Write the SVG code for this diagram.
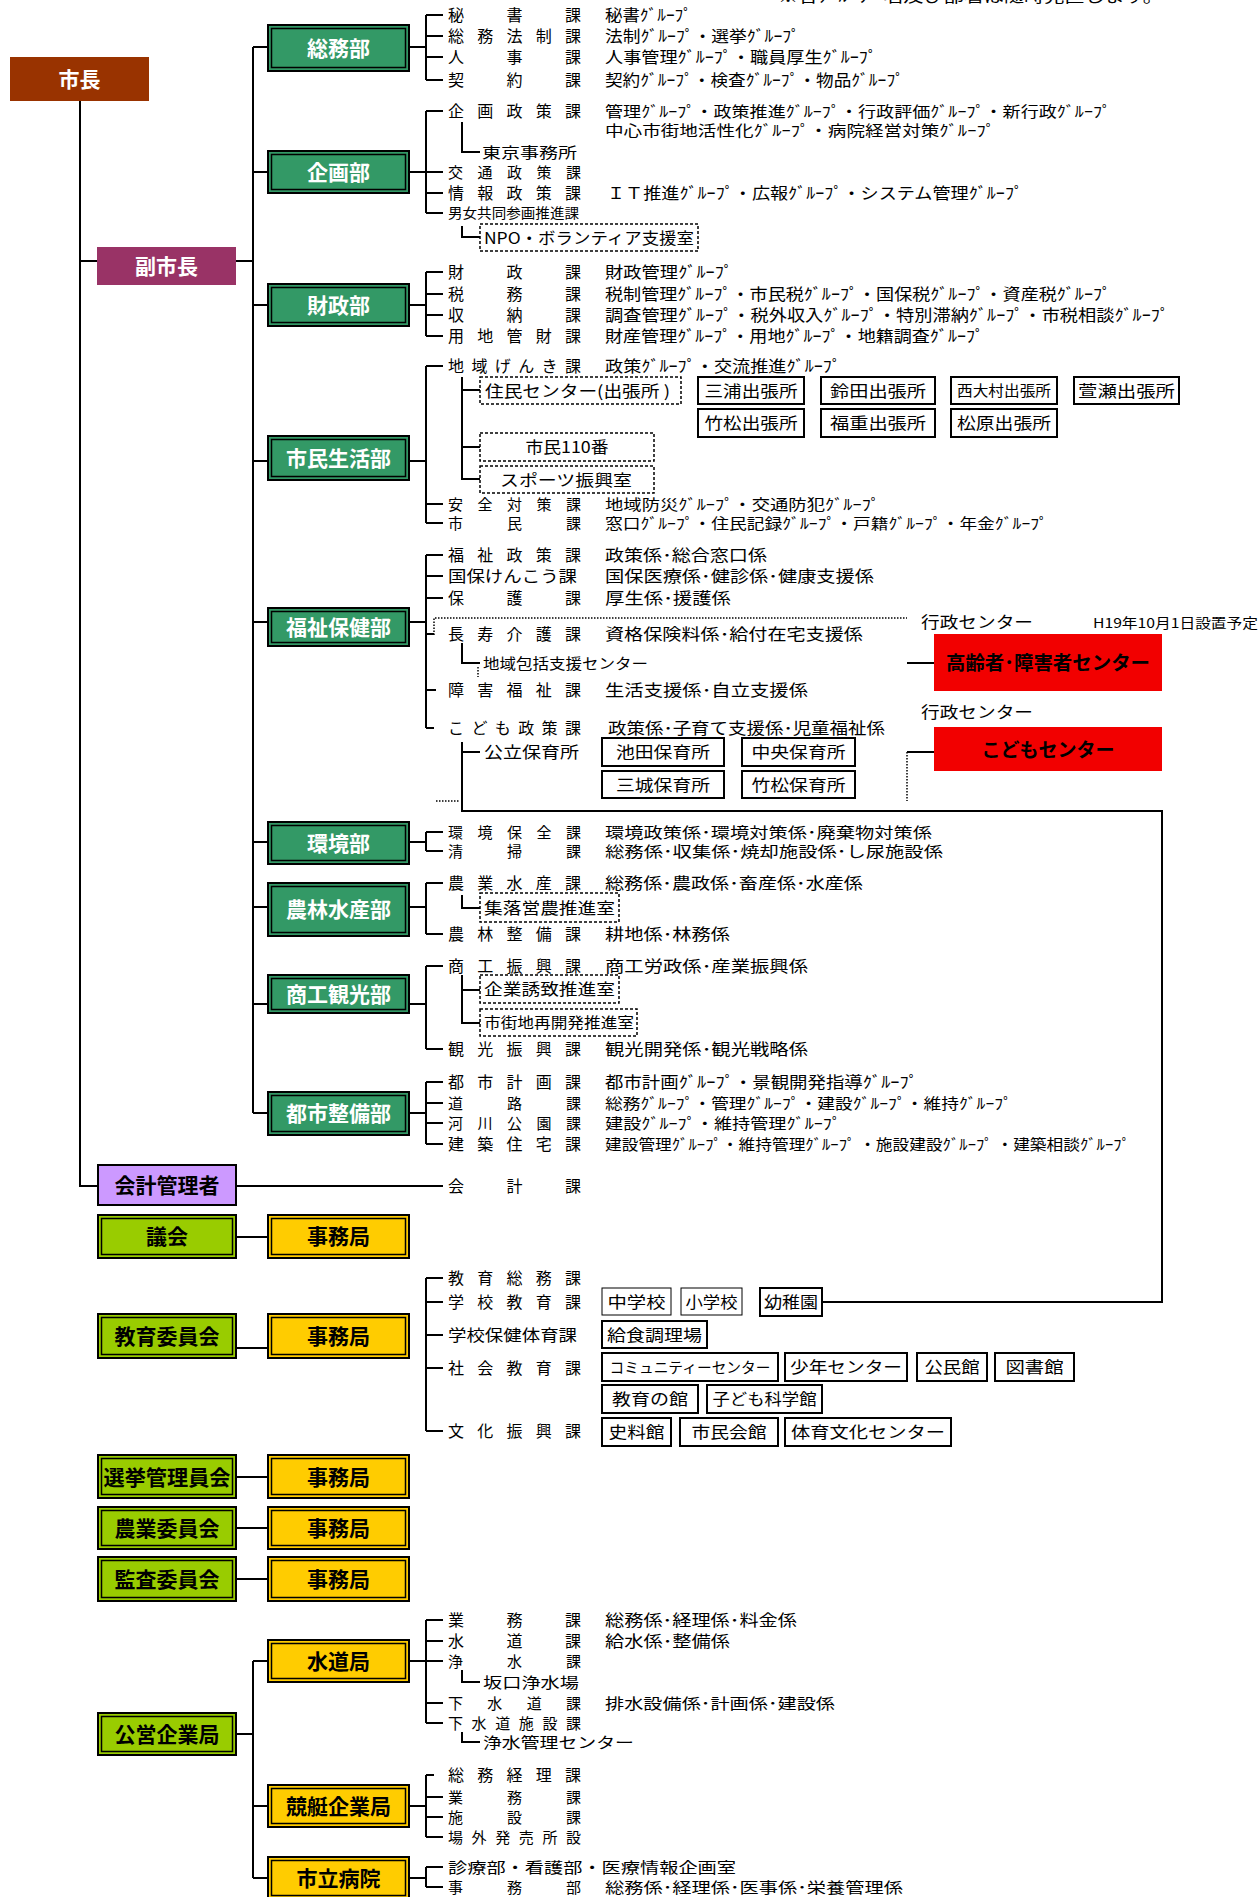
<svg xmlns="http://www.w3.org/2000/svg" width="1260" height="1897" viewBox="0 0 1260 1897">
<style>
text{font-family:"Noto Sans CJK JP","Noto Sans",sans-serif;font-size:16px;fill:#000}
.n{font-size:15px}
.s{font-size:14.5px}
.xs{font-size:13.5px}
.b{font-weight:bold;font-size:21px;text-anchor:middle}
.r{font-weight:bold;font-size:19px;text-anchor:middle}
.c{text-anchor:middle}
.w{fill:#fff}
.ln{stroke:#000;stroke-width:2;fill:none}
.dt{stroke:#000;stroke-width:1.5;stroke-dasharray:1.5 1.5;fill:none}
.g{fill:#339966;stroke:#000;stroke-width:2}
.y{fill:#ffcc00;stroke:#000;stroke-width:2}
.l{fill:#99cc00;stroke:#000;stroke-width:2}
.in{fill:none;stroke:#000;stroke-width:1.5}
.sb{fill:#fff;stroke:#000;stroke-width:2}
.tb{fill:#fff;stroke:#000;stroke-width:1}
.db{fill:#fff;stroke:#000;stroke-width:1.5;stroke-dasharray:3 2}
.red{fill:#f20000}
</style>

<text x="778" y="2" textLength="385" lengthAdjust="spacingAndGlyphs">※各ｸﾞﾙｰﾌﾟ 名及び部署は随時見直します。</text>

<g id="connectors">
<path class="ln" d="M80 101V1186H97M80 261H97M236 261H253M253 47V1113"/>
<path class="ln" d="M253 47H267M253 172H267M253 305H267M253 461H267M253 622H267M253 842H267M253 907H267M253 1004H267M253 1113H267"/>
<path class="ln" d="M410 47H426M410 172H426M410 305H426M410 461H426M410 622H426M410 842H426M410 907H426M410 1004H426M410 1113H426"/>
<path class="ln" d="M426 15V80M426 111V213M426 272V336M426 366V523M426 555V728M426 832V851M426 883V934M426 966V1049M426 1082V1144M426 1278V1431M426 1620V1723M426 1775V1837M426 1867V1887"/>
<path class="ln" d="M426 15H443M426 36H443M426 57H443M426 80H443M426 111H443M426 172H443M426 193H443M426 213H443M426 272H443M426 294H443M426 315H443M426 336H443M426 366H443M426 504H443M426 523H443M426 555H443M426 576H443M426 598H443M426 634H434M426 690H436M426 728H434M426 832H443M426 851H443M426 883H443M426 934H443M426 966H443M426 1049H443M426 1082H443M426 1103H443M426 1123H443M426 1144H443"/>
<path class="ln" d="M426 1278H443M426 1302H443M426 1335H443M426 1368H443M426 1431H443M426 1620H443M426 1641H443M426 1661H443M426 1703H443M426 1723H443M426 1775H434M426 1797H443M426 1817H443M426 1837H443M426 1867H443M426 1887H443"/>
<path class="ln" d="M236 1186H443M237 1237H267M237 1348H267M237 1477H267M237 1528H267M237 1579H267"/>
<path class="ln" d="M237 1734H253M253 1661V1878M253 1661H267M253 1806H267M253 1878H267M410 1661H426M410 1806H426M410 1878H426"/>
<path class="ln" d="M462 122V152H480M462 226V237H480M462 377V479H480M462 390H480M462 447H480M462 643V663H480M462 742V811H1162V1302H822M462 752H480M462 895V908H480M462 975V1023H480M462 990H480M462 1670V1682H480M462 1732V1742H480"/>
<path class="ln" d="M907 663H934M907 752H934"/>
<path class="dt" d="M434 635V618H907M478 667V677M907 752V801M436 801H460"/>
</g>

<g id="n-mayor"><rect x="10" y="57" width="139" height="44" fill="#993300"/><text class="b w" x="79.5" y="87">市長</text></g>
<g id="n-vice"><rect x="97" y="247" width="139" height="38" fill="#993366"/><text class="b w" x="166.5" y="274">副市長</text></g>

<g id="n-somu"><rect class="g" x="268" y="25" width="141" height="46"/><rect class="in" x="271.5" y="28.5" width="134" height="39"/><text class="b w" x="338.5" y="56">総務部</text></g>
<g id="n-kikaku"><rect class="g" x="268" y="151" width="141" height="42"/><rect class="in" x="271.5" y="154.5" width="134" height="35"/><text class="b w" x="338.5" y="180">企画部</text></g>
<g id="n-zaisei"><rect class="g" x="268" y="284" width="141" height="42"/><rect class="in" x="271.5" y="287.5" width="134" height="35"/><text class="b w" x="338.5" y="313">財政部</text></g>
<g id="n-shimin"><rect class="g" x="268" y="436" width="141" height="44"/><rect class="in" x="271.5" y="439.5" width="134" height="37"/><text class="b w" x="338.5" y="466">市民生活部</text></g>
<g id="n-fukushi"><rect class="g" x="268" y="608" width="141" height="38"/><rect class="in" x="271.5" y="611.5" width="134" height="31"/><text class="b w" x="338.5" y="635">福祉保健部</text></g>
<g id="n-kankyo"><rect class="g" x="268" y="822" width="141" height="42"/><rect class="in" x="271.5" y="825.5" width="134" height="35"/><text class="b w" x="338.5" y="851">環境部</text></g>
<g id="n-norin"><rect class="g" x="268" y="883" width="141" height="53"/><rect class="in" x="271.5" y="886.5" width="134" height="46"/><text class="b w" x="338.5" y="917">農林水産部</text></g>
<g id="n-shoko"><rect class="g" x="268" y="975" width="141" height="38"/><rect class="in" x="271.5" y="978.5" width="134" height="31"/><text class="b w" x="338.5" y="1002">商工観光部</text></g>
<g id="n-toshi"><rect class="g" x="268" y="1092" width="141" height="43"/><rect class="in" x="271.5" y="1095.5" width="134" height="36"/><text class="b w" x="338.5" y="1121">都市整備部</text></g>

<g id="n-kaikei"><rect x="98" y="1165" width="138" height="40" fill="#cc99ff" stroke="#000" stroke-width="2"/><text class="b" x="167" y="1193">会計管理者</text></g>

<g id="n-gikai"><rect class="l" x="98" y="1215" width="138" height="43"/><rect class="in" x="101.5" y="1218.5" width="131" height="36"/><text class="b" x="167" y="1244">議会</text></g>
<g id="n-gikai-j"><rect class="y" x="268" y="1215" width="141" height="43"/><rect class="in" x="271.5" y="1218.5" width="134" height="36"/><text class="b" x="338.5" y="1244">事務局</text></g>
<g id="n-kyoiku"><rect class="l" x="98" y="1314" width="138" height="44"/><rect class="in" x="101.5" y="1317.5" width="131" height="37"/><text class="b" x="167" y="1344">教育委員会</text></g>
<g id="n-kyoiku-j"><rect class="y" x="268" y="1314" width="141" height="44"/><rect class="in" x="271.5" y="1317.5" width="134" height="37"/><text class="b" x="338.5" y="1344">事務局</text></g>
<g id="n-senkyo"><rect class="l" x="98" y="1455" width="138" height="43"/><rect class="in" x="101.5" y="1458.5" width="131" height="36"/><text class="b" x="167" y="1484.5" textLength="127" lengthAdjust="spacingAndGlyphs">選挙管理員会</text></g>
<g id="n-senkyo-j"><rect class="y" x="268" y="1455" width="141" height="43"/><rect class="in" x="271.5" y="1458.5" width="134" height="36"/><text class="b" x="338.5" y="1484.5">事務局</text></g>
<g id="n-nogyo"><rect class="l" x="98" y="1507" width="138" height="42"/><rect class="in" x="101.5" y="1510.5" width="131" height="35"/><text class="b" x="167" y="1536">農業委員会</text></g>
<g id="n-nogyo-j"><rect class="y" x="268" y="1507" width="141" height="42"/><rect class="in" x="271.5" y="1510.5" width="134" height="35"/><text class="b" x="338.5" y="1536">事務局</text></g>
<g id="n-kansa"><rect class="l" x="98" y="1557" width="138" height="44"/><rect class="in" x="101.5" y="1560.5" width="131" height="37"/><text class="b" x="167" y="1587">監査委員会</text></g>
<g id="n-kansa-j"><rect class="y" x="268" y="1557" width="141" height="44"/><rect class="in" x="271.5" y="1560.5" width="134" height="37"/><text class="b" x="338.5" y="1587">事務局</text></g>
<g id="n-koei"><rect class="l" x="98" y="1713" width="138" height="42"/><rect class="in" x="101.5" y="1716.5" width="131" height="35"/><text class="b" x="167" y="1742">公営企業局</text></g>
<g id="n-suido"><rect class="y" x="268" y="1640" width="141" height="42"/><rect class="in" x="271.5" y="1643.5" width="134" height="35"/><text class="b" x="338.5" y="1669">水道局</text></g>
<g id="n-kyotei"><rect class="y" x="268" y="1785" width="141" height="42"/><rect class="in" x="271.5" y="1788.5" width="134" height="35"/><text class="b" x="338.5" y="1814">競艇企業局</text></g>
<g id="n-byoin"><rect class="y" x="268" y="1857" width="141" height="42"/><rect class="in" x="271.5" y="1860.5" width="134" height="35"/><text class="b" x="338.5" y="1886">市立病院</text></g>

<g id="somu-items">
<text x="448" y="21" textLength="133" lengthAdjust="spacing">秘書課</text>
<text x="605" y="21" textLength="87" lengthAdjust="spacingAndGlyphs">秘書ｸﾞﾙｰﾌﾟ</text>
<text x="448" y="42" textLength="133" lengthAdjust="spacing">総務法制課</text>
<text x="605" y="42" textLength="195" lengthAdjust="spacingAndGlyphs">法制ｸﾞﾙｰﾌﾟ・選挙ｸﾞﾙｰﾌﾟ</text>
<text x="448" y="63" textLength="133" lengthAdjust="spacing">人事課</text>
<text x="605" y="63" textLength="272" lengthAdjust="spacingAndGlyphs">人事管理ｸﾞﾙｰﾌﾟ・職員厚生ｸﾞﾙｰﾌﾟ</text>
<text x="448" y="86" textLength="133" lengthAdjust="spacing">契約課</text>
<text x="605" y="86" textLength="299" lengthAdjust="spacingAndGlyphs">契約ｸﾞﾙｰﾌﾟ・検査ｸﾞﾙｰﾌﾟ・物品ｸﾞﾙｰﾌﾟ</text>
</g>

<g id="kikaku-items">
<text x="448" y="117" textLength="133" lengthAdjust="spacing">企画政策課</text>
<text class="n" x="605" y="116.5" textLength="506" lengthAdjust="spacingAndGlyphs">管理ｸﾞﾙｰﾌﾟ・政策推進ｸﾞﾙｰﾌﾟ・行政評価ｸﾞﾙｰﾌﾟ・新行政ｸﾞﾙｰﾌﾟ</text>
<text class="n" x="605" y="135.5" textLength="390" lengthAdjust="spacingAndGlyphs">中心市街地活性化ｸﾞﾙｰﾌﾟ・病院経営対策ｸﾞﾙｰﾌﾟ</text>
<text class="n" x="482" y="157.5" textLength="95" lengthAdjust="spacingAndGlyphs">東京事務所</text>
<text class="n" x="448" y="177.5" textLength="133" lengthAdjust="spacing">交通政策課</text>
<text x="448" y="199" textLength="133" lengthAdjust="spacing">情報政策課</text>
<text x="607" y="199" textLength="416" lengthAdjust="spacingAndGlyphs">ＩＴ推進ｸﾞﾙｰﾌﾟ・広報ｸﾞﾙｰﾌﾟ・システム管理ｸﾞﾙｰﾌﾟ</text>
<text x="448" y="218" style="font-size:13.5px" textLength="131" lengthAdjust="spacingAndGlyphs">男女共同参画推進課</text>
<g id="n-npo"><rect class="db" x="480" y="224" width="218" height="27"/><text x="484" y="243.5" textLength="210" lengthAdjust="spacingAndGlyphs">NPO・ボランティア支援室</text></g>
</g>

<g id="zaisei-items">
<text x="448" y="278" textLength="133" lengthAdjust="spacing">財政課</text>
<text x="605" y="278" textLength="128" lengthAdjust="spacingAndGlyphs">財政管理ｸﾞﾙｰﾌﾟ</text>
<text x="448" y="300" textLength="133" lengthAdjust="spacing">税務課</text>
<text x="605" y="300" textLength="506" lengthAdjust="spacingAndGlyphs">税制管理ｸﾞﾙｰﾌﾟ・市民税ｸﾞﾙｰﾌﾟ・国保税ｸﾞﾙｰﾌﾟ・資産税ｸﾞﾙｰﾌﾟ</text>
<text x="448" y="321" textLength="133" lengthAdjust="spacing">収納課</text>
<text x="605" y="321" textLength="564" lengthAdjust="spacingAndGlyphs">調査管理ｸﾞﾙｰﾌﾟ・税外収入ｸﾞﾙｰﾌﾟ・特別滞納ｸﾞﾙｰﾌﾟ・市税相談ｸﾞﾙｰﾌﾟ</text>
<text x="448" y="342" textLength="133" lengthAdjust="spacing">用地管財課</text>
<text x="605" y="342" textLength="379" lengthAdjust="spacingAndGlyphs">財産管理ｸﾞﾙｰﾌﾟ・用地ｸﾞﾙｰﾌﾟ・地籍調査ｸﾞﾙｰﾌﾟ</text>
</g>

<g id="shimin-items">
<text x="448" y="372" textLength="133" lengthAdjust="spacing">地域げんき課</text>
<text x="605" y="372" textLength="236" lengthAdjust="spacingAndGlyphs">政策ｸﾞﾙｰﾌﾟ・交流推進ｸﾞﾙｰﾌﾟ</text>
<g id="n-jumin"><rect class="db" x="480" y="377" width="201" height="27"/><text x="485" y="396.5" textLength="185" lengthAdjust="spacingAndGlyphs">住民センター(出張所 )</text></g>
<g id="n-miura"><rect class="sb" x="698" y="377" width="106" height="27"/><text class="c" x="751" y="396.5" textLength="93" lengthAdjust="spacingAndGlyphs">三浦出張所</text></g>
<g id="n-suzuta"><rect class="sb" x="821" y="377" width="114" height="27"/><text class="c" x="878" y="396.5" textLength="96" lengthAdjust="spacingAndGlyphs">鈴田出張所</text></g>
<g id="n-nishiomura"><rect class="sb" x="951" y="377" width="106" height="27"/><text class="c s" x="1004" y="396" textLength="94" lengthAdjust="spacingAndGlyphs">西大村出張所</text></g>
<g id="n-kayaze"><rect class="sb" x="1074" y="377" width="105" height="27"/><text class="c" x="1126.5" y="396.5" textLength="97" lengthAdjust="spacingAndGlyphs">萱瀬出張所</text></g>
<g id="n-takematsu"><rect class="sb" x="698" y="409" width="106" height="28"/><text class="c" x="751" y="429" textLength="93" lengthAdjust="spacingAndGlyphs">竹松出張所</text></g>
<g id="n-fukushige"><rect class="sb" x="821" y="409" width="114" height="28"/><text class="c" x="878" y="429" textLength="96" lengthAdjust="spacingAndGlyphs">福重出張所</text></g>
<g id="n-matsubara"><rect class="sb" x="951" y="409" width="106" height="28"/><text class="c" x="1004" y="429" textLength="94" lengthAdjust="spacingAndGlyphs">松原出張所</text></g>
<g id="n-110"><rect class="db" x="480" y="433" width="174" height="28"/><text class="c" x="567" y="453" textLength="83" lengthAdjust="spacingAndGlyphs">市民110番</text></g>
<g id="n-sports"><rect class="db" x="480" y="466" width="174" height="27"/><text class="c" x="566" y="485.5" textLength="132" lengthAdjust="spacingAndGlyphs">スポーツ振興室</text></g>
<text class="n" x="448" y="509.5" textLength="133" lengthAdjust="spacing">安全対策課</text>
<text class="n" x="605" y="509.5" textLength="275" lengthAdjust="spacingAndGlyphs">地域防災ｸﾞﾙｰﾌﾟ・交通防犯ｸﾞﾙｰﾌﾟ</text>
<text class="n" x="448" y="528.5" textLength="133" lengthAdjust="spacing">市民課</text>
<text class="n" x="605" y="528.5" textLength="443" lengthAdjust="spacingAndGlyphs">窓口ｸﾞﾙｰﾌﾟ・住民記録ｸﾞﾙｰﾌﾟ・戸籍ｸﾞﾙｰﾌﾟ・年金ｸﾞﾙｰﾌﾟ</text>
</g>

<g id="fukushi-items">
<text x="448" y="561" textLength="133" lengthAdjust="spacing">福祉政策課</text>
<text x="605" y="561" textLength="162" lengthAdjust="spacingAndGlyphs">政策係･総合窓口係</text>
<text x="448" y="582" textLength="129" lengthAdjust="spacingAndGlyphs">国保けんこう課</text>
<text x="605" y="582" textLength="269" lengthAdjust="spacingAndGlyphs">国保医療係･健診係･健康支援係</text>
<text x="448" y="604" textLength="133" lengthAdjust="spacing">保護課</text>
<text x="605" y="604" textLength="126" lengthAdjust="spacingAndGlyphs">厚生係･援護係</text>
<text x="448" y="639.5" textLength="133" lengthAdjust="spacing">長寿介護課</text>
<text x="605" y="639.5" textLength="258" lengthAdjust="spacingAndGlyphs">資格保険料係･給付在宅支援係</text>
<text class="s" x="483" y="668.5" textLength="165" lengthAdjust="spacingAndGlyphs">地域包括支援センター</text>
<text x="448" y="696" textLength="133" lengthAdjust="spacing">障害福祉課</text>
<text x="605" y="696" textLength="203" lengthAdjust="spacingAndGlyphs">生活支援係･自立支援係</text>
<text x="448" y="734" textLength="133" lengthAdjust="spacing">こども政策課</text>
<text x="608" y="734" textLength="277" lengthAdjust="spacingAndGlyphs">政策係･子育て支援係･児童福祉係</text>
<text x="484" y="758" textLength="95" lengthAdjust="spacingAndGlyphs">公立保育所</text>
<g id="n-ikeda"><rect class="sb" x="602" y="738" width="122" height="28"/><text class="c" x="663" y="758" textLength="94" lengthAdjust="spacingAndGlyphs">池田保育所</text></g>
<g id="n-chuo"><rect class="sb" x="742" y="738" width="113" height="28"/><text class="c" x="798.5" y="758" textLength="94" lengthAdjust="spacingAndGlyphs">中央保育所</text></g>
<g id="n-mishiro"><rect class="sb" x="602" y="771" width="122" height="27"/><text class="c" x="663" y="791" textLength="94" lengthAdjust="spacingAndGlyphs">三城保育所</text></g>
<g id="n-takematsu-h"><rect class="sb" x="742" y="771" width="113" height="27"/><text class="c" x="798.5" y="791" textLength="94" lengthAdjust="spacingAndGlyphs">竹松保育所</text></g>
<text x="921" y="628" textLength="112" lengthAdjust="spacingAndGlyphs">行政センター</text>
<text class="xs" x="1093" y="628" textLength="165" lengthAdjust="spacingAndGlyphs">H19年10月1日設置予定</text>
<g id="n-korei"><rect class="red" x="934" y="634" width="228" height="57"/><text class="r" x="1048" y="670" textLength="204" lengthAdjust="spacingAndGlyphs">高齢者･障害者センター</text></g>
<text x="921" y="718" textLength="112" lengthAdjust="spacingAndGlyphs">行政センター</text>
<g id="n-kodomo"><rect class="red" x="934" y="727" width="228" height="44"/><text class="r" x="1048" y="757" textLength="133" lengthAdjust="spacingAndGlyphs">こどもセンター</text></g>
</g>

<g id="kankyo-items">
<text class="n" x="448" y="837.5" textLength="133" lengthAdjust="spacing">環境保全課</text>
<text class="n" x="605" y="837.5" textLength="327" lengthAdjust="spacingAndGlyphs">環境政策係･環境対策係･廃棄物対策係</text>
<text class="n" x="448" y="856.5" textLength="133" lengthAdjust="spacing">清掃課</text>
<text class="n" x="605" y="856.5" textLength="338" lengthAdjust="spacingAndGlyphs">総務係･収集係･焼却施設係･し尿施設係</text>
</g>

<g id="norin-items">
<text x="448" y="889" textLength="133" lengthAdjust="spacing">農業水産課</text>
<text x="605" y="889" textLength="258" lengthAdjust="spacingAndGlyphs">総務係･農政係･畜産係･水産係</text>
<g id="n-shuraku"><rect class="db" x="480" y="893" width="139" height="29"/><text x="484" y="913.5" textLength="131" lengthAdjust="spacingAndGlyphs">集落営農推進室</text></g>
<text x="448" y="940" textLength="133" lengthAdjust="spacing">農林整備課</text>
<text x="605" y="940" textLength="125" lengthAdjust="spacingAndGlyphs">耕地係･林務係</text>
</g>

<g id="shoko-items">
<text x="448" y="972" textLength="133" lengthAdjust="spacing">商工振興課</text>
<text x="605" y="972" textLength="203" lengthAdjust="spacingAndGlyphs">商工労政係･産業振興係</text>
<g id="n-kigyo"><rect class="db" x="480" y="975" width="139" height="28"/><text x="484" y="995" textLength="131" lengthAdjust="spacingAndGlyphs">企業誘致推進室</text></g>
<g id="n-shigaichi"><rect class="db" x="480" y="1009" width="157" height="27"/><text class="s" x="484" y="1028" textLength="150" lengthAdjust="spacingAndGlyphs">市街地再開発推進室</text></g>
<text x="448" y="1055" textLength="133" lengthAdjust="spacing">観光振興課</text>
<text x="605" y="1055" textLength="203" lengthAdjust="spacingAndGlyphs">観光開発係･観光戦略係</text>
</g>

<g id="toshi-items">
<text x="448" y="1088" textLength="133" lengthAdjust="spacing">都市計画課</text>
<text x="605" y="1088" textLength="313" lengthAdjust="spacingAndGlyphs">都市計画ｸﾞﾙｰﾌﾟ・景観開発指導ｸﾞﾙｰﾌﾟ</text>
<text class="n" x="448" y="1108.5" textLength="133" lengthAdjust="spacing">道路課</text>
<text class="n" x="605" y="1108.5" textLength="407" lengthAdjust="spacingAndGlyphs">総務ｸﾞﾙｰﾌﾟ・管理ｸﾞﾙｰﾌﾟ・建設ｸﾞﾙｰﾌﾟ・維持ｸﾞﾙｰﾌﾟ</text>
<text class="n" x="448" y="1128.5" textLength="133" lengthAdjust="spacing">河川公園課</text>
<text class="n" x="605" y="1128.5" textLength="236" lengthAdjust="spacingAndGlyphs">建設ｸﾞﾙｰﾌﾟ・維持管理ｸﾞﾙｰﾌﾟ</text>
<text x="448" y="1150" textLength="133" lengthAdjust="spacing">建築住宅課</text>
<text class="n" x="605" y="1149.5" textLength="525" lengthAdjust="spacingAndGlyphs">建設管理ｸﾞﾙｰﾌﾟ・維持管理ｸﾞﾙｰﾌﾟ ・施設建設ｸﾞﾙｰﾌﾟ ・建築相談ｸﾞﾙｰﾌﾟ</text>
</g>

<g id="kaikei-items">
<text x="448" y="1192" textLength="133" lengthAdjust="spacing">会計課</text>
</g>

<g id="kyoiku-items">
<text x="448" y="1284" textLength="133" lengthAdjust="spacing">教育総務課</text>
<text x="448" y="1308" textLength="133" lengthAdjust="spacing">学校教育課</text>
<g id="n-chugaku"><rect class="tb" x="602" y="1288" width="69" height="27"/><text class="c" x="636.5" y="1307.5" textLength="58" lengthAdjust="spacingAndGlyphs">中学校</text></g>
<g id="n-shogaku"><rect class="tb" x="681" y="1288" width="61" height="27"/><text class="c" x="711.5" y="1307.5" textLength="52" lengthAdjust="spacingAndGlyphs">小学校</text></g>
<g id="n-yochien"><rect class="sb" x="760" y="1288" width="62" height="28"/><text class="c" x="791" y="1308" textLength="54" lengthAdjust="spacingAndGlyphs">幼稚園</text></g>
<text x="448" y="1341" textLength="129" lengthAdjust="spacingAndGlyphs">学校保健体育課</text>
<g id="n-kyushoku"><rect class="sb" x="602" y="1321" width="105" height="27"/><text class="c" x="654.5" y="1340.5" textLength="95" lengthAdjust="spacingAndGlyphs">給食調理場</text></g>
<text x="448" y="1374" textLength="133" lengthAdjust="spacing">社会教育課</text>
<g id="n-community"><rect class="sb" x="602" y="1353" width="176" height="28"/><text class="c s" x="690" y="1372.5" textLength="161" lengthAdjust="spacingAndGlyphs">コミュニティーセンター</text></g>
<g id="n-shonen"><rect class="sb" x="785" y="1353" width="122" height="28"/><text class="c" x="846" y="1373" textLength="112" lengthAdjust="spacingAndGlyphs">少年センター</text></g>
<g id="n-kominkan"><rect class="sb" x="917" y="1353" width="70" height="28"/><text class="c" x="952" y="1373" textLength="55" lengthAdjust="spacingAndGlyphs">公民館</text></g>
<g id="n-toshokan"><rect class="sb" x="995" y="1353" width="79" height="28"/><text class="c" x="1034.5" y="1373" textLength="58" lengthAdjust="spacingAndGlyphs">図書館</text></g>
<g id="n-kyoikunoyakata"><rect class="sb" x="602" y="1385" width="96" height="28"/><text class="c" x="650" y="1405" textLength="76" lengthAdjust="spacingAndGlyphs">教育の館</text></g>
<g id="n-kagakukan"><rect class="sb" x="707" y="1385" width="115" height="28"/><text class="c" x="764.5" y="1405" textLength="104" lengthAdjust="spacingAndGlyphs">子ども科学館</text></g>
<text x="448" y="1437" textLength="133" lengthAdjust="spacing">文化振興課</text>
<g id="n-shiryokan"><rect class="sb" x="602" y="1418" width="69" height="28"/><text class="c" x="636.5" y="1438" textLength="56" lengthAdjust="spacingAndGlyphs">史料館</text></g>
<g id="n-shiminkaikan"><rect class="sb" x="680" y="1418" width="98" height="28"/><text class="c" x="729" y="1438" textLength="75" lengthAdjust="spacingAndGlyphs">市民会館</text></g>
<g id="n-taiiku"><rect class="sb" x="785" y="1418" width="166" height="28"/><text class="c" x="868" y="1438" textLength="154" lengthAdjust="spacingAndGlyphs">体育文化センター</text></g>
</g>

<g id="suido-items">
<text x="448" y="1626" textLength="133" lengthAdjust="spacing">業務課</text>
<text x="605" y="1626" textLength="192" lengthAdjust="spacingAndGlyphs">総務係･経理係･料金係</text>
<text x="448" y="1647" textLength="133" lengthAdjust="spacing">水道課</text>
<text x="605" y="1647" textLength="125" lengthAdjust="spacingAndGlyphs">給水係･整備係</text>
<text class="n" x="448" y="1666.5" textLength="133" lengthAdjust="spacing">浄水課</text>
<text class="n" x="483" y="1687.5" textLength="96" lengthAdjust="spacingAndGlyphs">坂口浄水場</text>
<text class="n" x="448" y="1708.5" textLength="133" lengthAdjust="spacing">下水道課</text>
<text class="n" x="605" y="1708.5" textLength="230" lengthAdjust="spacingAndGlyphs">排水設備係･計画係･建設係</text>
<text class="n" x="448" y="1728.5" textLength="133" lengthAdjust="spacing">下水道施設課</text>
<text class="n" x="483" y="1747.5" textLength="151" lengthAdjust="spacingAndGlyphs">浄水管理センター</text>
</g>

<g id="kyotei-items">
<text x="448" y="1781" textLength="133" lengthAdjust="spacing">総務経理課</text>
<text class="n" x="448" y="1802.5" textLength="133" lengthAdjust="spacing">業務課</text>
<text class="n" x="448" y="1822.5" textLength="133" lengthAdjust="spacing">施設課</text>
<text class="n" x="448" y="1842.5" textLength="133" lengthAdjust="spacing">場外発売所設</text>
</g>

<g id="byoin-items">
<text class="n" x="448" y="1872.5" textLength="288" lengthAdjust="spacingAndGlyphs">診療部・看護部・医療情報企画室</text>
<text class="n" x="448" y="1892.5" textLength="133" lengthAdjust="spacing">事務部</text>
<text class="n" x="605" y="1892.5" textLength="298" lengthAdjust="spacingAndGlyphs">総務係･経理係･医事係･栄養管理係</text>
</g>
</svg>
